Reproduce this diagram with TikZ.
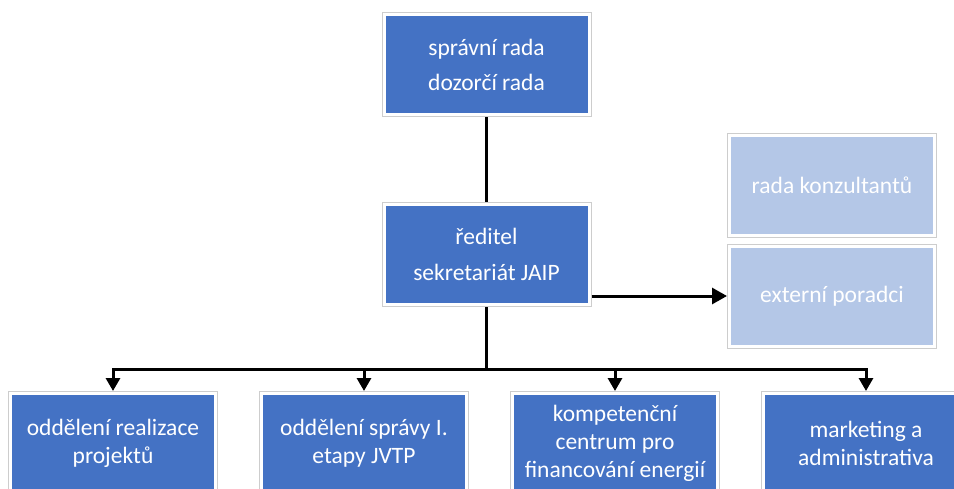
\documentclass[tikz,border=0pt]{standalone}
\usepackage{fontspec}
\setmainfont{Carlito}
\usetikzlibrary{positioning}
\usetikzlibrary{arrows.meta}
\definecolor{boxblue}{RGB}{68,114,196}
\definecolor{boxlight}{RGB}{180,199,231}
\definecolor{boxrim}{RGB}{205,205,205}

\begin{document}
\begin{tikzpicture}[
            x=1pt, y=-1pt,
            bluenode/.style={rectangle, fill=boxblue, draw=white, line width=3pt,
                preaction={draw=boxrim, line width=5pt},
                minimum width=205pt, minimum height=100pt, inner sep=2pt,
                outer sep=2.5pt, align=center, text=white, font=\fontsize{23.5}{28}\selectfont},
            lightnode/.style={bluenode, fill=boxlight},
            linkline/.style={black, line width=3pt},
            node distance=41pt,
        ]
            \clip (0,0) rectangle (954,488);
            % Nodes
            \node[bluenode] (board) at (486.5,64.5) {správní rada\\[7pt]dozorčí rada};
            \node[bluenode, below=85pt of board] (director) {ředitel\\[8pt]sekretariát JAIP};
            \node[lightnode] (advisors) at (832,296) {externí poradci};
            \node[lightnode, above=6pt of advisors] (consultants) {rada konzultantů};
            \node[bluenode] (projects) at (113,443.5) {oddělení realizace\\projektů};
            \node[bluenode, right= of projects] (stage) {oddělení správy I.\\etapy JVTP};
            \node[bluenode, right= of stage] (centre) {kompetenční\\centrum pro\\financování energií};
            \node[bluenode, right= of centre] (marketing) {marketing a\\administrativa};
            \coordinate[below=62pt of director.south] (bus);
%
%            % Lines
            \draw[linkline] (board.south) -- (director.north);
            \draw[linkline, -{Triangle[width=16pt,length=15pt]}] (director.east |- advisors.west) -- (advisors.west);
            \draw[linkline] (director.south) -- (bus);
            \foreach \dept in {projects, stage, centre, marketing}
                \draw[linkline, -{Triangle[width=14pt,length=13pt]}] (bus) -| (\dept.north);
        \end{tikzpicture}
\end{document}
